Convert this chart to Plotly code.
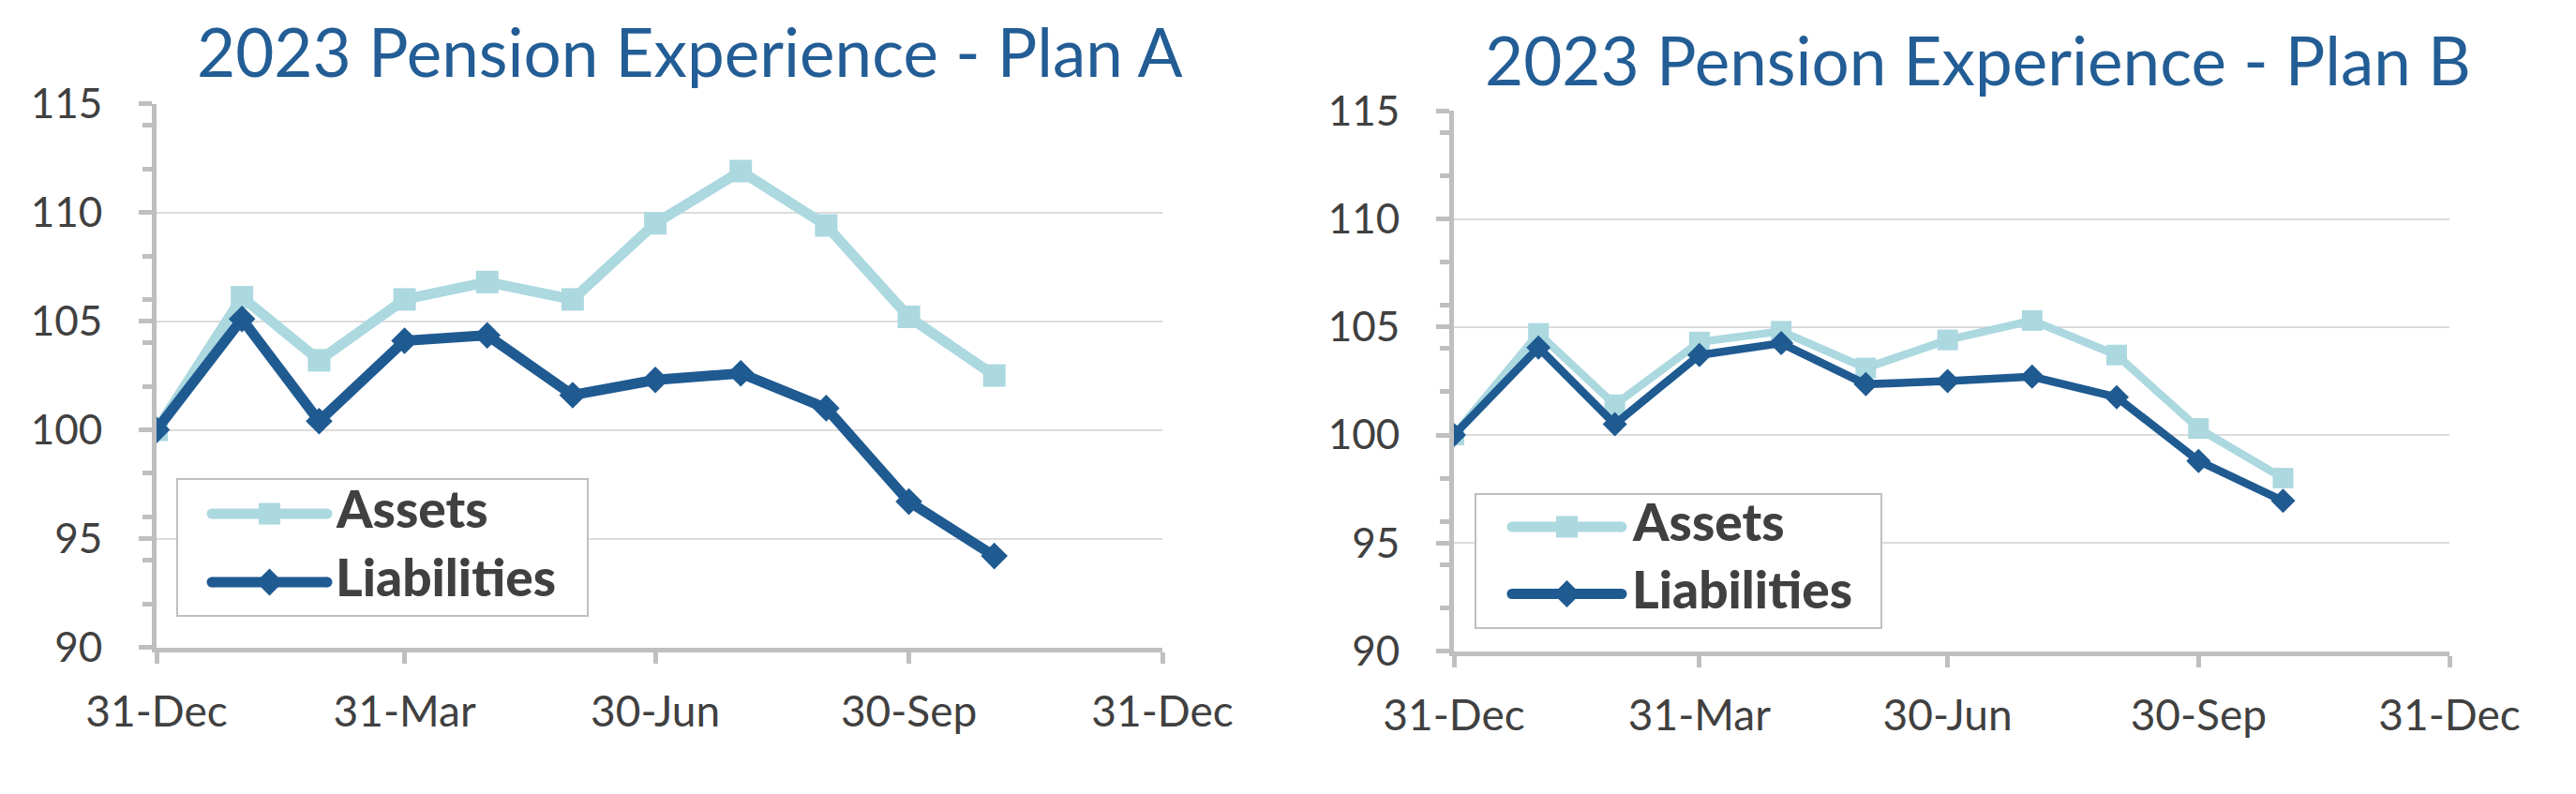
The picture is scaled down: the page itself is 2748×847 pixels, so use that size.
import plotly.graph_objects as go

# ---------------- data ----------------
dates = ["2022-12-31", "2023-01-31", "2023-02-28", "2023-03-31", "2023-04-30",
         "2023-05-31", "2023-06-30", "2023-07-31", "2023-08-31", "2023-09-30",
         "2023-10-31"]
plan_a_assets = [100, 106.1, 103.2, 106.0, 106.8, 106.0, 109.5, 111.9, 109.4, 105.2, 102.5]
plan_a_liabilities = [100, 105.1, 100.4, 104.1, 104.35, 101.6, 102.3, 102.6, 101.0, 96.7, 94.2]
plan_b_assets = [100, 104.7, 101.4, 104.3, 104.8, 103.1, 104.4, 105.3, 103.7, 100.3, 98.0]
plan_b_liabilities = [100, 104.05, 100.5, 103.7, 104.25, 102.35, 102.5, 102.7, 101.75, 98.8, 96.95]

x_tickvals = ["2022-12-31", "2023-03-31", "2023-06-30", "2023-09-30", "2023-12-31"]
x_ticktext = ["31-Dec", "31-Mar", "30-Jun", "30-Sep", "31-Dec"]
x_range = ["2022-12-31", "2023-12-31"]
y_range = [90, 115]
titles = ["2023 Pension Experience - Plan A", "2023 Pension Experience - Plan B"]
series_names = ["Assets", "Liabilities"]

# ---------------- styles ----------------
PAGE_W, PAGE_H = 2748, 847
OFF = 8  # default body margin of the html page
W, H = PAGE_W - 2 * OFF, PAGE_H - 2 * OFF
FONT = "Lato"
C_ASSETS = "#ACD8E0"
C_LIAB = "#1F5A91"
C_TITLE = "#235D95"
C_TEXT = "#404040"
C_AXIS = "#BFBFBF"
C_GRID = "#DCDCDC"


def px(x):
    return (x - OFF) / W


def py(y):
    return 1 - (y - OFF) / H


fig = go.Figure()

panels = [
    dict(xa="x", ya="y", xd=[167, 1240], yd=[110.7, 690.5], lw=11, ms_sq=24, ms_di=22,
         assets=plan_a_assets, liab=plan_a_liabilities,
         title=titles[0], tx=736, ty=55,
         box=[189, 511, 627, 657], ly=[548, 621], lx=[226, 349], txt_x=356),
    dict(xa="x2", ya="y2", xd=[1551, 2613], yd=[118.3, 694.5], lw=8.5, ms_sq=22, ms_di=20,
         assets=plan_b_assets, liab=plan_b_liabilities,
         title=titles[1], tx=2110, ty=63,
         box=[1574, 527, 2007, 670], ly=[562, 633.5], lx=[1613, 1730], txt_x=1739),
]

shapes = []
annotations = []

for i, p in enumerate(panels):
    fig.add_trace(go.Scatter(
        x=dates, y=p["assets"], name=series_names[0], mode="lines+markers",
        line=dict(color=C_ASSETS, width=p["lw"]),
        marker=dict(symbol="square", size=p["ms_sq"], color=C_ASSETS),
        xaxis=p["xa"], yaxis=p["ya"], showlegend=False))
    fig.add_trace(go.Scatter(
        x=dates, y=p["liab"], name=series_names[1], mode="lines+markers",
        line=dict(color=C_LIAB, width=p["lw"]),
        marker=dict(symbol="diamond", size=p["ms_di"], color=C_LIAB),
        xaxis=p["xa"], yaxis=p["ya"], showlegend=False))

    sfx = "" if i == 0 else "2"
    fig.update_layout(**{
        "xaxis" + sfx: dict(
            domain=[px(p["xd"][0]), px(p["xd"][1])], anchor="y" + sfx, type="date",
            range=x_range, tickmode="array", tickvals=x_tickvals, ticktext=x_ticktext,
            showgrid=False, zeroline=False, showline=True, linecolor=C_AXIS, linewidth=5,
            ticks="outside", ticklen=12, tickwidth=5, tickcolor=C_AXIS,
            tickfont=dict(family=FONT, size=46, color=C_TEXT), ticklabelstandoff=12,
            automargin=False, fixedrange=True),
        "yaxis" + sfx: dict(
            domain=[py(p["yd"][1]), py(p["yd"][0])], anchor="x" + sfx,
            range=y_range, dtick=5, tick0=90,
            showgrid=True, gridcolor=C_GRID, gridwidth=2, zeroline=False,
            showline=True, linecolor=C_AXIS, linewidth=5,
            ticks="outside", ticklen=14, tickwidth=5, tickcolor=C_AXIS,
            minor=dict(dtick=2, tick0=90, ticks="outside", ticklen=10, tickwidth=5,
                       tickcolor=C_AXIS, showgrid=False),
            tickfont=dict(family=FONT, size=44, color=C_TEXT), ticklabelstandoff=30,
            automargin=False, fixedrange=True),
    })

    # title
    annotations.append(dict(
        text=p["title"], x=px(p["tx"]), y=py(p["ty"]), xref="paper", yref="paper",
        xanchor="center", yanchor="middle", showarrow=False,
        font=dict(family=FONT, size=71, color=C_TITLE)))

    # custom legend
    bx0, by0, bx1, by1 = p["box"]
    shapes.append(dict(type="rect", xref="paper", yref="paper",
                       x0=px(bx0), x1=px(bx1), y0=py(by1), y1=py(by0),
                       line=dict(color=C_AXIS, width=2), fillcolor="white", layer="above"))
    lwid = 11
    for j, (col, sym) in enumerate([(C_ASSETS, "square"), (C_LIAB, "diamond")]):
        yy = p["ly"][j]
        x0, x1 = p["lx"]
        shapes.append(dict(type="line", xref="paper", yref="paper",
                           x0=px(x0), x1=px(x1), y0=py(yy), y1=py(yy),
                           line=dict(color=col, width=lwid), layer="above"))
        r = lwid / 2
        for xe in (x0, x1):
            shapes.append(dict(type="circle", xref="paper", yref="paper",
                               x0=px(xe - r), x1=px(xe + r), y0=py(yy + r), y1=py(yy - r),
                               line=dict(width=0), fillcolor=col, layer="above"))
        xc = (x0 + x1) / 2
        if sym == "square":
            s = 11.5
            shapes.append(dict(type="rect", xref="paper", yref="paper",
                               x0=px(xc - s), x1=px(xc + s), y0=py(yy + s), y1=py(yy - s),
                               line=dict(width=0), fillcolor=col, layer="above"))
        else:
            d = 14.5
            path = (f"M {px(xc)},{py(yy - d)} L {px(xc + d)},{py(yy)} "
                    f"L {px(xc)},{py(yy + d)} L {px(xc - d)},{py(yy)} Z")
            shapes.append(dict(type="path", xref="paper", yref="paper", path=path,
                               line=dict(width=0), fillcolor=col, layer="above"))
        annotations.append(dict(
            text=series_names[j], x=px(p["txt_x"]), y=py(yy - 6), xref="paper", yref="paper",
            xanchor="left", yanchor="middle", showarrow=False,
            font=dict(family=FONT, size=55, color=C_TEXT, weight=900)))

fig.update_layout(
    width=W, height=H, margin=dict(l=0, r=0, t=0, b=0),
    paper_bgcolor="white", plot_bgcolor="white",
    showlegend=False, shapes=shapes, annotations=annotations,
)

fig.write_html("out.html", config={"displayModeBar": False})
